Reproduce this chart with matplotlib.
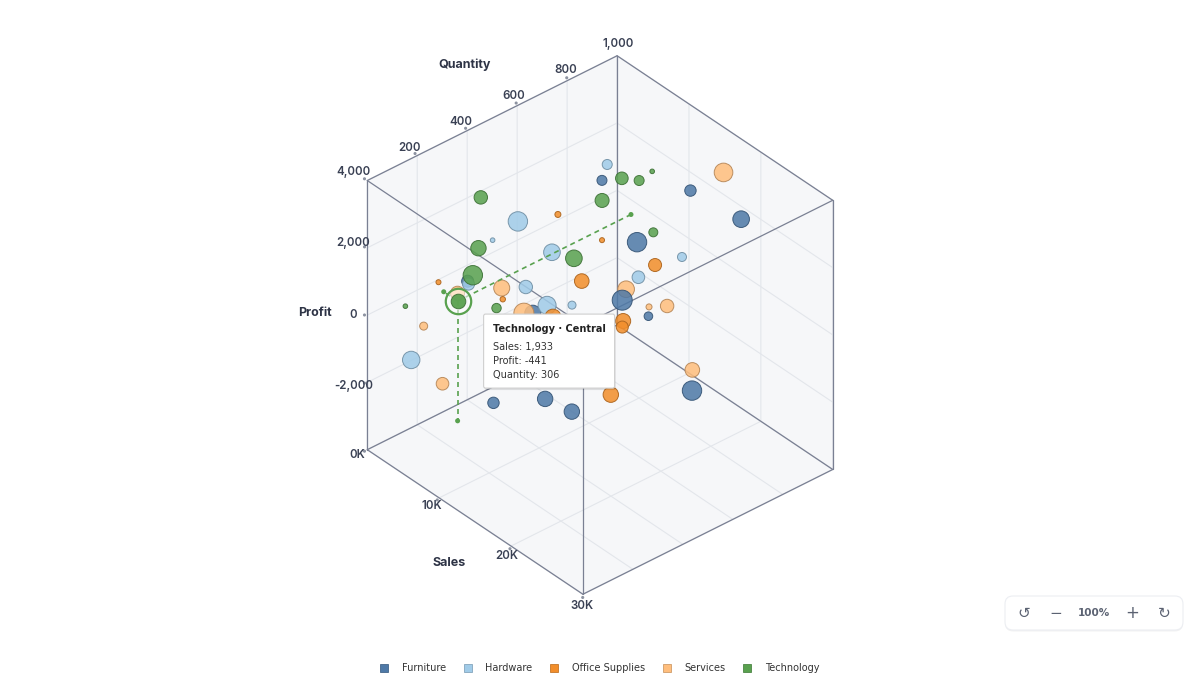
import itertools
import numpy as np
import matplotlib
matplotlib.use("Agg")
import matplotlib.pyplot as plt
from matplotlib import transforms
from matplotlib.colors import to_rgba
from matplotlib.lines import Line2D
from matplotlib.patches import FancyBboxPatch
from matplotlib.ticker import NullFormatter
from mpl_toolkits.mplot3d import proj3d

# ---------------- data ----------------
categories = ["Furniture", "Hardware", "Office Supplies", "Services", "Technology"]
category_colors = ["#4e79a7", "#a0cbe8", "#f28e2b", "#ffbe7d", "#59a14f"]

furniture_sales    = [4512, 7488, 16530, 22470, 11985, 18020, 21040, 28460, 23975, 10515, 13490, 19530]
furniture_quantity = [272, 724, 818, 850, 735, 502, 520, 481, 129, 360, 117, 150]
furniture_profit   = [645, 2392, 3035, 2917, 1158, 1163, 1052, 48, 86, 228, -1110, -250]
furniture_orders   = [144, 100, 130, 276, 376, 400, 74, 376, 237, 256, 130, 237]

hardware_sales    = [3020, 1485, 9010, 5990, 8985, 15040, 1512, 17960, 13530, 12010, 2985]
hardware_quantity = [516, 459, 480, 233, 376, 287, 917, 743, 696, 474, 90]
hardware_profit   = [1304, 738, 1378, 915, 728, 1381, 1293, 1544, 482, 259, -1239]
hardware_orders   = [376, 21, 276, 144, 180, 324, 100, 81, 159, 64, 303]

office_sales    = [6015, 10480, 905, 7520, 8990, 14980, 19510, 21020, 25470, 16520]
office_quantity = [590, 557, 259, 326, 681, 721, 463, 416, 242, 268]
office_profit   = [1665, 447, 147, 339, 990, 960, 901, 1112, 385, 1311]
office_orders   = [36, 213, 25, 29, 25, 169, 225, 144, 237, 256]

services_sales    = [4490, 2410, 16510, 15020, 22480, 23990, 27010, 1520, 5985, 12020]
services_quantity = [409, 292, 951, 604, 481, 510, 524, 182, 129, 281]
services_profit   = [-69, -87, 3078, 680, 1679, 1815, 296, -784, -1661, 737]
services_orders   = [256, 196, 346, 276, 36, 180, 213, 64, 159, 400]

technology_sales    = [1510, 2990, 7510, 9020, 5980, 9010, 7490, 6010, 13520, 610, 1933, 5990]
technology_quantity = [411, 359, 611, 163, 847, 829, 925, 767, 756, 135, 306, 345]
technology_profit   = [2191, 1085, 498, 1872, 1781, 2216, 1915, 1424, 1593, -148, -441, -213]
technology_orders   = [180, 237, 276, 376, 159, 100, 21, 196, 81, 21, 213, 88]

hover_category = "Technology"
hover_index = 10
hover_region = "Central"

sales_range = (0, 30000)
quantity_range = (0, 1000)
profit_range = (-4000, 4000)
sales_ticks = [0, 10000, 20000, 30000]
sales_tick_labels = ["0K", "10K", "20K", "30K"]
quantity_ticks = [0, 200, 400, 600, 800, 1000]
quantity_label_ticks = [200, 400, 600, 800, 1000]
profit_ticks = [-4000, -2000, 0, 2000, 4000]
profit_label_ticks = [-2000, 0, 2000, 4000]

series = {
    "Furniture": (furniture_sales, furniture_quantity, furniture_profit, furniture_orders),
    "Hardware": (hardware_sales, hardware_quantity, hardware_profit, hardware_orders),
    "Office Supplies": (office_sales, office_quantity, office_profit, office_orders),
    "Services": (services_sales, services_quantity, services_profit, services_orders),
    "Technology": (technology_sales, technology_quantity, technology_profit, technology_orders),
}

# ---------------- style ----------------
plt.rcParams["font.family"] = ["DejaVu Sans"]
plt.rcParams["grid.color"] = "#e3e6eb"
plt.rcParams["grid.linewidth"] = 0.8
plt.rcParams["grid.linestyle"] = "-"

EDGE = "#7a8093"
TICK_TXT = "#3a4154"
TITLE_TXT = "#2e3446"
PANE = "#f6f7f9"

def darker(c, f=0.72, a=0.95):
    r, g, b, _ = to_rgba(c)
    return (r * f, g * f, b * f, a)

def size_of(orders):
    # bubble radius (px) = sqrt(orders)/2 ; scatter size in pt^2
    return 0.5184 * np.asarray(orders, float)

fig = plt.figure(figsize=(12, 6.8), dpi=100)
fig.patch.set_facecolor("white")
S = 554.9
ax = fig.add_axes([(600 - 0.51351 * S) / 1200, (355 - 0.51351 * S) / 680, S / 1200, S / 680],
                  projection="3d", proj_type="ortho", computed_zorder=False)
ax.set_box_aspect((1, 1, 1))
ax.view_init(elev=35.35, azim=-40.8)
ax.set_xlim(*sales_range)
ax.set_ylim(*quantity_range)
ax.set_zlim(*profit_range)
ax.set_xticks(sales_ticks)
ax.set_yticks(quantity_ticks)
ax.set_zticks(profit_ticks)
for axis in (ax.xaxis, ax.yaxis, ax.zaxis):
    axis.set_pane_color(PANE)
    axis.set_major_formatter(NullFormatter())
    axis.line.set_color((0, 0, 0, 0))
    axis.line.set_linewidth(0)
ax.tick_params(axis="both", colors=(0, 0, 0, 0))
ax.tick_params(axis="z", colors=(0, 0, 0, 0))
ax.set_facecolor("white")

# cube frame (all 12 edges)
corners = list(itertools.product(sales_range, quantity_range, profit_range))
for c1, c2 in itertools.combinations(corners, 2):
    if sum(a != b for a, b in zip(c1, c2)) == 1:
        ax.plot([c1[0], c2[0]], [c1[1], c2[1]], [c1[2], c2[2]],
                color=EDGE, lw=0.9, zorder=1, solid_capstyle="round")

# ---------------- bubbles ----------------
xs, ys, zs, ss, fcs, ecs = [], [], [], [], [], []
for cat, col in zip(categories, category_colors):
    sa, qu, pr, od = series[cat]
    for i in range(len(sa)):
        if cat == hover_category and i == hover_index:
            continue
        xs.append(sa[i]); ys.append(qu[i]); zs.append(pr[i])
        ss.append(size_of(od[i]))
        fcs.append(to_rgba(col, 0.86))
        ecs.append(darker(col))
ax.scatter(xs, ys, zs, s=ss, c=fcs, edgecolors=ecs, linewidths=0.7,
           depthshade=False, zorder=2)

# hovered point with projection guides
hcol = category_colors[categories.index(hover_category)]
hs = series[hover_category][0][hover_index]
hq = series[hover_category][1][hover_index]
hp = series[hover_category][2][hover_index]
ho = series[hover_category][3][hover_index]
guide_ends = [(hs, hq, profit_range[0]), (hs, quantity_range[1], hp), (sales_range[0], hq, hp)]
for ex, ey, ez in guide_ends:
    ax.plot([hs, ex], [hq, ey], [hp, ez], color=hcol, lw=1.2, ls=(0, (3, 2.4)), zorder=3)
    ax.scatter([ex], [ey], [ez], s=13, c=[hcol], edgecolors="none", depthshade=False, zorder=3)
ax.scatter([hs], [hq], [hp], s=335, c=[(1, 1, 1, 0.55)], edgecolors=[hcol], linewidths=1.6,
           depthshade=False, zorder=4)
ax.scatter([hs], [hq], [hp], s=size_of(ho), c=[to_rgba(hcol, 0.95)], edgecolors=[darker(hcol)],
           linewidths=0.7, depthshade=False, zorder=5)

# ---------------- tick marks, labels, axis titles ----------------
center = np.array([np.mean(sales_range), np.mean(quantity_range), np.mean(profit_range)])

def expand(pt, k):
    pt = np.asarray(pt, float)
    return center + k * (pt - center)

tick_font = dict(family=["Inter", "DejaVu Sans"], fontsize=8.3, color=TICK_TXT,
                 fontweight="semibold", ha="center", va="center", zorder=6)
dots = []
for v, lab in zip(sales_ticks, sales_tick_labels):
    p = (v, quantity_range[0], profit_range[0])
    dots.append(expand(p, 1.012))
    ax.text(*expand(p, 1.045), lab, **tick_font)
for v in quantity_label_ticks:
    p = (sales_range[0], v, profit_range[1])
    dots.append(expand(p, 1.012))
    ax.text(*expand(p, 1.045), f"{v:,}", **tick_font)
for v in profit_label_ticks:
    p = (sales_range[0], quantity_range[0], v)
    dots.append(expand(p, 1.012))
    ax.text(*expand(p, 1.06), f"{v:,}", **tick_font)
dots = np.array(dots)
ax.scatter(dots[:, 0], dots[:, 1], dots[:, 2], s=5, c="#8d93a1", edgecolors="none",
           depthshade=False, zorder=1.5)

title_font = dict(family=["Inter", "DejaVu Sans"], fontsize=9, color=TITLE_TXT,
                  fontweight="bold", ha="center", va="center", zorder=6)
ax.text(*expand((np.mean(sales_range), quantity_range[0], profit_range[0]), 1.21), "Sales", **title_font)
ax.text(*expand((sales_range[0], np.mean(quantity_range), profit_range[1]), 1.26), "Quantity", **title_font)
ax.text(*expand((sales_range[0], quantity_range[0], np.mean(profit_range)), 1.225), "Profit", **title_font)

# ---------------- legend ----------------
handles = [Line2D([], [], marker="s", ls="none", markersize=6.3, markerfacecolor=c,
                  markeredgecolor=darker(c, 0.8), markeredgewidth=0.6) for c in category_colors]
fig.legend(handles, categories, loc="center", bbox_to_anchor=(0.5, 12 / 680), ncol=5,
           frameon=False, prop=dict(family="DejaVu Sans", size=7), labelcolor="#333333",
           handlelength=0.8, handletextpad=1.4, columnspacing=1.85)

# ---------------- tooltip ----------------
fig.canvas.draw()
x2, y2, _ = proj3d.proj_transform(hs, hq, hp, ax.get_proj())
px, py = ax.transData.transform((x2, y2))
disp = transforms.IdentityTransform()
bw, bh = 131, 74
bx, btop = px + 26, py - 13
by = btop - bh
fig.add_artist(FancyBboxPatch((bx + 1, by - 2), bw, bh, boxstyle="round,pad=0,rounding_size=2",
                              transform=disp, fc=(0, 0, 0, 0.10), ec="none", zorder=9))
fig.add_artist(FancyBboxPatch((bx, by), bw, bh, boxstyle="round,pad=0,rounding_size=2",
                              transform=disp, fc="white", ec="#cfcfcf", lw=0.8, zorder=10))
fig.text(bx + 9, btop - 15, f"{hover_category} \u00b7 {hover_region}", transform=disp,
         fontsize=7, fontweight="bold", color="#222222", va="center", ha="left", zorder=11)
for k, line in enumerate([f"Sales: {hs:,}", f"Profit: {hp:,}", f"Quantity: {hq:,}"]):
    fig.text(bx + 9, btop - 33.3 - 13.7 * k, line, transform=disp, fontsize=7,
             color="#333333", va="center", ha="left", zorder=11)

# ---------------- zoom toolbar ----------------
tb_x0, tb_y0, tb_w, tb_h = 1005, 50, 178, 34
fig.add_artist(FancyBboxPatch((tb_x0, tb_y0 - 1.5), tb_w, tb_h, boxstyle="round,pad=0,rounding_size=8",
                              transform=disp, fc=(0, 0, 0, 0.05), ec="none", zorder=9))
fig.add_artist(FancyBboxPatch((tb_x0, tb_y0), tb_w, tb_h, boxstyle="round,pad=0,rounding_size=8",
                              transform=disp, fc="white", ec="#eceef2", lw=0.8, zorder=10))
icon_color = "#5b6272"
tb_items = [("\u21ba", 1024, 11, "normal"), ("\u2212", 1056, 11, "normal"),
            ("100%", 1094, 7.5, "bold"), ("+", 1132, 12, "normal"), ("\u21bb", 1164, 11, "normal")]
for txt, xpos, fs, fw in tb_items:
    fig.text(xpos, tb_y0 + tb_h / 2, txt, transform=disp, fontsize=fs, fontweight=fw,
             color=icon_color, ha="center", va="center", zorder=11)

fig.savefig("out.png", dpi=100, facecolor="white")
